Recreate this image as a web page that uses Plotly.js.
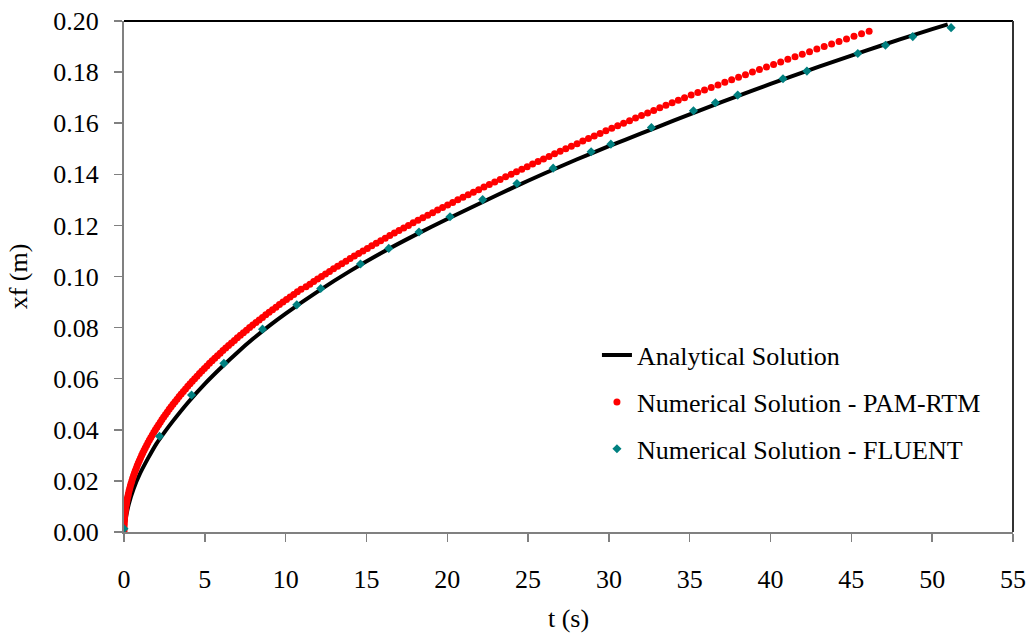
<!DOCTYPE html>
<html>
<head>
<meta charset="utf-8">
<script src="https://cdn.plot.ly/plotly-3.0.1.min.js"></script>
<style>
html,body{margin:0;padding:0;background:#fff;}
#chart{width:1029px;height:637px;}
</style>
</head>
<body>
<div id="chart"></div>
<script>
// Analytical solution
const analyticT = [0, 0.1, 0.3, 0.6, 1.0, 1.5, 2.0, 2.5, 3.0, 4.0, 5.0, 6.0, 7.0, 8.0, 9.0, 10, 12, 14, 16, 18, 20, 22, 24, 26, 28, 30, 32, 34, 36, 38, 40, 42, 44, 46, 48, 50, 50.96];
const analyticXf = [0, 0.005, 0.011, 0.017, 0.023, 0.029, 0.0345, 0.0390, 0.0432, 0.0510, 0.0580, 0.0643, 0.0702, 0.0757, 0.0808, 0.0855, 0.0942, 0.1022, 0.1095, 0.1162, 0.1225, 0.1286, 0.1346, 0.1403, 0.1458, 0.1510, 0.1560, 0.1610, 0.1659, 0.1707, 0.1754, 0.1799, 0.1843, 0.1886, 0.1928, 0.1968, 0.1987];

// Numerical solution - PAM-RTM (red dots)
const pamT = [
 0, 0.001, 0.005, 0.011, 0.019, 0.030, 0.044, 0.059, 0.078, 0.098,
 0.121, 0.147, 0.175, 0.205, 0.238, 0.273, 0.311, 0.351, 0.393, 0.438,
 0.486, 0.535, 0.588, 0.642, 0.699, 0.759, 0.821, 0.885, 0.952, 1.021,
 1.093, 1.167, 1.243, 1.322, 1.403, 1.487, 1.573, 1.662, 1.753, 1.847,
 1.942, 2.041, 2.141, 2.245, 2.350, 2.458, 2.569, 2.682, 2.797, 2.915,
 3.035, 3.158, 3.283, 3.410, 3.540, 3.672, 3.807, 3.944, 4.084, 4.226,
 4.370, 4.517, 4.667, 4.818, 4.973, 5.129, 5.288, 5.450, 5.614, 5.780,
 5.949, 6.120, 6.293, 6.469, 6.648, 6.829, 7.012, 7.198, 7.386, 7.577,
 7.770, 7.965, 8.163, 8.363, 8.566, 8.771, 8.979, 9.189, 9.401, 9.616,
 9.833, 10.053, 10.275, 10.500, 10.727, 10.956, 11.262, 11.498, 11.736, 11.977,
 12.220, 12.466, 12.714, 12.964, 13.217, 13.473, 13.730, 13.991, 14.253, 14.519,
 14.786, 15.056, 15.329, 15.604, 15.881, 16.161, 16.443, 16.728, 17.015, 17.305,
 17.597, 17.891, 18.188, 18.488, 18.789, 19.094, 19.400, 19.710, 20.021, 20.335,
 20.652, 20.971, 21.292, 21.616, 21.942, 22.271, 22.602, 22.936, 23.272, 23.610,
 23.951, 24.281, 24.610, 24.944, 25.279, 25.615, 25.954, 26.296, 26.638, 26.983,
 27.331, 27.678, 28.030, 28.383, 28.737, 29.094, 29.454, 29.813, 30.177, 30.542,
 30.907, 31.276, 31.648, 32.018, 32.394, 32.771, 33.147, 33.528, 33.911, 34.293,
 34.680, 35.089, 35.501, 35.915, 36.331, 36.750, 37.171, 37.595, 38.021, 38.449,
 38.880, 39.313, 39.749, 40.187, 40.627, 41.070, 41.515, 41.963, 42.413, 42.865,
 43.320, 43.777, 44.237, 44.699, 45.163, 45.630, 46.099];
const pamXf = [
 0.000, 0.001, 0.002, 0.003, 0.004, 0.005, 0.006, 0.007, 0.008, 0.009,
 0.010, 0.011, 0.012, 0.013, 0.014, 0.015, 0.016, 0.017, 0.018, 0.019,
 0.020, 0.021, 0.022, 0.023, 0.024, 0.025, 0.026, 0.027, 0.028, 0.029,
 0.030, 0.031, 0.032, 0.033, 0.034, 0.035, 0.036, 0.037, 0.038, 0.039,
 0.040, 0.041, 0.042, 0.043, 0.044, 0.045, 0.046, 0.047, 0.048, 0.049,
 0.050, 0.051, 0.052, 0.053, 0.054, 0.055, 0.056, 0.057, 0.058, 0.059,
 0.060, 0.061, 0.062, 0.063, 0.064, 0.065, 0.066, 0.067, 0.068, 0.069,
 0.070, 0.071, 0.072, 0.073, 0.074, 0.075, 0.076, 0.077, 0.078, 0.079,
 0.080, 0.081, 0.082, 0.083, 0.084, 0.085, 0.086, 0.087, 0.088, 0.089,
 0.090, 0.091, 0.092, 0.093, 0.094, 0.095, 0.096, 0.097, 0.098, 0.099,
 0.100, 0.101, 0.102, 0.103, 0.104, 0.105, 0.106, 0.107, 0.108, 0.109,
 0.110, 0.111, 0.112, 0.113, 0.114, 0.115, 0.116, 0.117, 0.118, 0.119,
 0.120, 0.121, 0.122, 0.123, 0.124, 0.125, 0.126, 0.127, 0.128, 0.129,
 0.130, 0.131, 0.132, 0.133, 0.134, 0.135, 0.136, 0.137, 0.138, 0.139,
 0.140, 0.141, 0.142, 0.143, 0.144, 0.145, 0.146, 0.147, 0.148, 0.149,
 0.150, 0.151, 0.152, 0.153, 0.154, 0.155, 0.156, 0.157, 0.158, 0.159,
 0.160, 0.161, 0.162, 0.163, 0.164, 0.165, 0.166, 0.167, 0.168, 0.169,
 0.170, 0.171, 0.172, 0.173, 0.174, 0.175, 0.176, 0.177, 0.178, 0.179,
 0.180, 0.181, 0.182, 0.183, 0.184, 0.185, 0.186, 0.187, 0.188, 0.189,
 0.190, 0.191, 0.192, 0.193, 0.194, 0.195, 0.196];

// Numerical solution - FLUENT (teal diamonds)
const fluentT = [0, 2.20, 4.18, 6.18, 8.57, 10.69, 12.17, 14.63, 16.38, 18.25, 20.17, 22.19, 24.31, 26.55, 28.90, 30.12, 32.63, 35.23, 36.59, 37.97, 40.77, 42.25, 45.40, 47.11, 48.80, 51.17];
const fluentXf = [0.0013, 0.0375, 0.0536, 0.0660, 0.0794, 0.0889, 0.0953, 0.1049, 0.1110, 0.1174, 0.1234, 0.1301, 0.1364, 0.1424, 0.1488, 0.1518, 0.1583, 0.1649, 0.1680, 0.1710, 0.1774, 0.1804, 0.1873, 0.1905, 0.1939, 0.1974];

const seriesNames = ["Analytical Solution", "Numerical Solution - PAM-RTM", "Numerical Solution - FLUENT"];
const xTitle = "t (s)";
const yTitle = "xf (m)";

const traces = [
  {x: analyticT, y: analyticXf, name: seriesNames[0], type: "scatter", mode: "lines",
   line: {color: "#000000", width: 4, shape: "spline", smoothing: 0.6}, legendgroup: "a"},
  {x: pamT, y: pamXf, name: seriesNames[1], type: "scatter", mode: "markers",
   marker: {color: "#FF0000", size: 7, symbol: "circle"}, legendgroup: "b"},
  {x: fluentT, y: fluentXf, name: seriesNames[2], type: "scatter", mode: "markers",
   marker: {color: "#008080", size: 7, symbol: "diamond"}, legendgroup: "c"}
];

const axisCommon = {
  showgrid: false, zeroline: false, showline: true,
  linecolor: "#808080", linewidth: 2,
  ticks: "outside", ticklen: 8, tickwidth: 1.5, tickcolor: "#808080",
  tickfont: {family: "Liberation Serif", size: 26, color: "#000"}
};

const layout = {
  width: 1029, height: 637,
  margin: {l: 124, r: 16, t: 21, b: 105, pad: 0},
  paper_bgcolor: "#ffffff", plot_bgcolor: "#ffffff",
  font: {family: "Liberation Serif", size: 26, color: "#000"},
  showlegend: true,
  legend: {x: 0.532, y: 0.392, xanchor: "left", yanchor: "top",
           bgcolor: "rgba(0,0,0,0)", borderwidth: 0, tracegroupgap: 10,
           font: {family: "Liberation Serif", size: 26, color: "#000"}},
  xaxis: Object.assign({}, axisCommon, {
    range: [0, 55], tick0: 0, dtick: 5, ticklabelstandoff: 15,
    title: {text: xTitle, font: {family: "Liberation Serif", size: 26, color: "#000"}, standoff: 16}
  }),
  yaxis: Object.assign({}, axisCommon, {
    range: [0, 0.2], tick0: 0, dtick: 0.02, tickformat: ".2f", ticklabelstandoff: 10,
    title: {text: yTitle, font: {family: "Liberation Serif", size: 26, color: "#000"}, standoff: 18}
  }),
  shapes: [
    {type: "line", xref: "paper", yref: "paper", x0: 0, x1: 1, y0: 1, y1: 1, line: {color: "#000", width: 2}},
    {type: "line", xref: "paper", yref: "paper", x0: 1, x1: 1, y0: 0, y1: 1, line: {color: "#333", width: 2}}
  ]
};

Plotly.newPlot("chart", traces, layout, {staticPlot: true, displayModeBar: false});
</script>
</body>
</html>
